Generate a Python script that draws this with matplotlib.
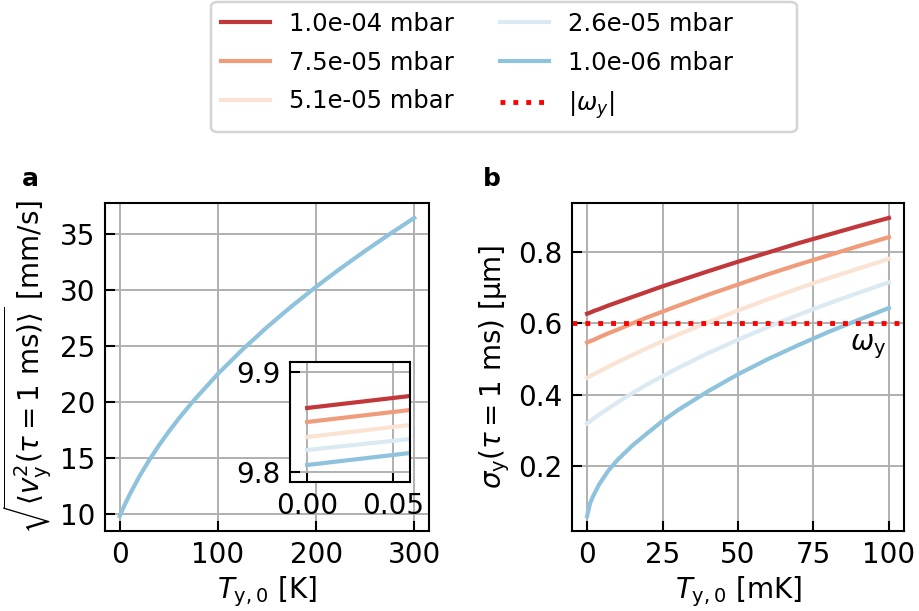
import numpy as np
import matplotlib
matplotlib.use("Agg")
import matplotlib.pyplot as plt
from matplotlib.patches import FancyBboxPatch

plt.rcParams["font.size"] = 20
plt.rcParams["axes.linewidth"] = 1.5

# pressures and line colours (red = high pressure, blue = low)
labels = ["1.0e-04 mbar", "7.5e-05 mbar", "5.1e-05 mbar", "2.6e-05 mbar", "1.0e-06 mbar"]
colors = ["#c1373a", "#f09c7b", "#fbe3d4", "#dbe9f2", "#8fc3dd"]

# panel a: rms velocity vs initial temperature [K]
T_a = [0, 1, 2, 5, 10, 20, 30, 40, 50, 60, 75, 100, 125, 150, 175, 200, 225, 250, 275, 300]
v_rms = [9.81, 10.02, 10.22, 10.80, 11.71, 13.35, 14.80, 16.13, 17.35, 18.50, 20.09, 22.50,
         24.67, 26.67, 28.53, 30.27, 31.92, 33.48, 34.98, 36.42]

# inset: zoom near T = 0
T_in = [0.0, 0.06]
v_in = [
    [9.864, 9.876],
    [9.850, 9.862],
    [9.835, 9.847],
    [9.822, 9.833],
    [9.807, 9.819],
]

# panel b: position spread vs initial temperature [mK]
T_b = [0, 1, 2, 4, 7, 10, 15, 20, 25, 30, 40, 50, 60, 70, 80, 90, 100]
sigma = [
    [0.627, 0.630, 0.634, 0.640, 0.650, 0.659, 0.674, 0.689, 0.704, 0.718, 0.746, 0.773, 0.799, 0.825, 0.849, 0.873, 0.896],
    [0.546, 0.550, 0.553, 0.561, 0.572, 0.582, 0.600, 0.617, 0.633, 0.649, 0.680, 0.709, 0.738, 0.765, 0.791, 0.817, 0.842],
    [0.447, 0.452, 0.456, 0.465, 0.478, 0.491, 0.511, 0.531, 0.550, 0.568, 0.603, 0.636, 0.668, 0.698, 0.727, 0.754, 0.781],
    [0.319, 0.325, 0.332, 0.344, 0.361, 0.378, 0.404, 0.429, 0.452, 0.474, 0.516, 0.554, 0.590, 0.624, 0.656, 0.686, 0.715],
    [0.059, 0.095, 0.115, 0.148, 0.186, 0.216, 0.257, 0.292, 0.326, 0.356, 0.409, 0.457, 0.500, 0.539, 0.576, 0.610, 0.643],
]
omega_y = 0.6

W, H = 919, 611
fig = plt.figure(figsize=(W / 100, H / 100), dpi=100)


def rect(x0, y0, x1, y1):
    return [x0 / W, 1 - y1 / H, (x1 - x0) / W, (y1 - y0) / H]


def style(ax):
    ax.grid(True, color="#b0b0b0", lw=1.4)
    ax.tick_params(direction="in", length=7, width=1.5, pad=7)
    ax.set_axisbelow(True)


ax_a = fig.add_axes(rect(105, 203, 429, 531))
ax_b = fig.add_axes(rect(572, 203, 904, 531))
ax_in = fig.add_axes(rect(290, 362, 410, 482))

# --- panel a
ax_a.plot(T_a, v_rms, color=colors[-1], lw=3)
ax_a.set_xticks([0, 100, 200, 300])
ax_a.set_yticks([10, 15, 20, 25, 30, 35])
ax_a.set_xlabel(r"$T_{\mathrm{y},0}$ [K]")
ax_a.set_ylabel(r"$\sqrt{\langle v_\mathrm{y}^2(\tau=1\ \mathrm{ms})\rangle}$ [mm/s]")
style(ax_a)

for vals, c in zip(v_in, colors):
    ax_in.plot(T_in, vals, color=c, lw=3)
ax_in.set_xlim(-0.01, 0.06)
ax_in.set_ylim(9.79, 9.91)
ax_in.set_xticks([0.0, 0.05])
ax_in.set_yticks([9.8, 9.9])
ax_in.set_xticklabels(["0.00", "0.05"])
style(ax_in)

# --- panel b
handles = []
for vals, c, lab in zip(sigma, colors, labels):
    h, = ax_b.plot(T_b, vals, color=c, lw=3, label=lab)
    handles.append(h)
hw = ax_b.axhline(omega_y, color="red", ls=":", lw=3.5, label=r"$|\omega_y|$")
handles.append(hw)
ax_b.text(99, 0.535, r"$\omega_\mathrm{y}$", ha="right", va="center")
ax_b.set_xticks([0, 25, 50, 75, 100])
ax_b.set_yticks([0.2, 0.4, 0.6, 0.8])
ax_b.set_xlabel(r"$T_{\mathrm{y},0}$ [mK]")
ax_b.set_ylabel(r"$\sigma_\mathrm{y}(\tau=1\ \mathrm{ms})$ [µm]")
style(ax_b)

fig.text(22 / W, 1 - 186 / H, "a", fontsize=18, fontweight="bold")
fig.text(483 / W, 1 - 186 / H, "b", fontsize=18, fontweight="bold")

# legend entries without frame, box drawn separately
fig.legend(handles=handles, ncol=2, loc="upper left", fontsize=17.5,
           bbox_to_anchor=(221 / W, 1 - 12 / H), frameon=False,
           borderpad=0, borderaxespad=0, labelspacing=0.6, columnspacing=1.9)
frame = FancyBboxPatch((211 / W, 1 - 132 / H), 586 / W, 130 / H,
                       boxstyle="round,pad=0,rounding_size=0.008",
                       transform=fig.transFigure, facecolor="white",
                       edgecolor="#d4d4d4", lw=1.8, zorder=-1)
fig.patches.append(frame)

fig.savefig("out.png", dpi=100)
